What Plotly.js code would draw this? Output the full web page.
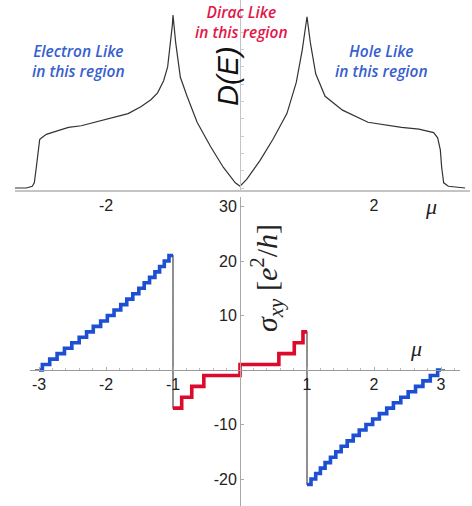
<!DOCTYPE html>
<html>
<head>
<meta charset="utf-8">
<script src="https://cdn.plot.ly/plotly-3.0.1.min.js"></script>
<style>
html, body { margin: 0; padding: 0; background: #fff; }
#plot { width: 472px; height: 506px; }
</style>
</head>
<body>
<div id="plot"></div>
<script>
// top panel: density of states D(E), arbitrary units (peak ~ 1)
var dosMu  = [-3.36, -3.19, -3.10, -3.07, -3.04, -3.01, -2.99, -2.96, -2.89, -2.81, -2.56, -2.37, -2.27, -1.93, -1.67, -1.48, -1.33, -1.23, -1.14, -1.08, -1.04, -1.01, -1.00,
              -0.96, -0.89, -0.79, -0.64, -0.44, -0.25, -0.07, 0.00, 0.10, 0.30, 0.49, 0.70, 0.84, 0.93, 1.00,
              1.05, 1.13, 1.27, 1.53, 1.91, 2.41, 2.67, 2.89, 2.95, 2.99, 3.01, 3.04, 3.11, 3.36];
var dosVal = [0.00, 0.00, 0.01, 0.03, 0.12, 0.22, 0.28, 0.29, 0.31, 0.32, 0.35, 0.36, 0.37, 0.40, 0.43, 0.47, 0.51, 0.55, 0.62, 0.70, 0.82, 0.94, 1.00,
              0.84, 0.64, 0.53, 0.38, 0.24, 0.12, 0.03, 0.01, 0.05, 0.16, 0.28, 0.43, 0.61, 0.80, 0.99,
              0.84, 0.66, 0.53, 0.45, 0.38, 0.35, 0.34, 0.32, 0.29, 0.22, 0.12, 0.03, 0.01, 0.00];

// bottom panel: Hall conductivity steps (value holds from each mu to the next)
var blueLeftMu  = [-3.00, -2.95, -2.84, -2.73, -2.62, -2.51, -2.40, -2.29, -2.19, -2.08, -1.98, -1.88, -1.78, -1.69, -1.60, -1.51, -1.43, -1.35, -1.27, -1.20, -1.13, -1.06, -1.00];
var blueLeftLvl = [0, 1, 2, 3, 4, 5, 6, 7, 8, 9, 10, 11, 12, 13, 14, 15, 16, 17, 18, 19, 20, 21, 21];
var redMu  = [-1.00, -0.87, -0.72, -0.54, 0.00, 0.58, 0.81, 0.94, 1.00];
var redLvl = [-7, -5, -3, -1, 1, 3, 5, 7, 7];
var blueRightMu  = [1.00, 1.06, 1.13, 1.20, 1.27, 1.35, 1.43, 1.51, 1.60, 1.69, 1.78, 1.88, 1.98, 2.08, 2.19, 2.29, 2.40, 2.51, 2.62, 2.73, 2.84, 2.95, 3.00];
var blueRightLvl = [-21, -20, -19, -18, -17, -16, -15, -14, -13, -12, -11, -10, -9, -8, -7, -6, -5, -4, -3, -2, -1, 0, 0];
var outerMu = [-3.06, 3.06];   // zero plateau outside the band

var topTicks = [-2, 2];
var bottomXTicks = [-3, -2, -1, 1, 2, 3];
var bottomYTicks = [-20, -10, 10, 20, 30];

// pixel geometry of the picture
var W = 472, H = 506;
var cx = 240, pxPerMu = 67;
function muAt(px) { return (px - cx) / pxPerMu; }
function px2x(px) { return px / W; }
function px2y(py) { return 1 - py / H; }
function hyphen(vals) { return vals.map(function (v) { return String(v); }); }

var fullMu = [outerMu[0]].concat(blueLeftMu, redMu, blueRightMu, [outerMu[1]]);
var fullLvl = [0].concat(blueLeftLvl, redLvl, blueRightLvl, [0]);

var traces = [
    {x: dosMu, y: dosVal, xaxis: 'x', yaxis: 'y', type: 'scatter', mode: 'lines',
     line: {color: '#333', width: 1.2}, hoverinfo: 'skip'},
    {x: fullMu, y: fullLvl, xaxis: 'x2', yaxis: 'y2', type: 'scatter', mode: 'lines',
     line: {color: '#555', width: 1.3, shape: 'hv'}, hoverinfo: 'skip'},
    {x: blueLeftMu, y: blueLeftLvl, xaxis: 'x2', yaxis: 'y2', type: 'scatter', mode: 'lines',
     line: {color: '#1d4fd3', width: 3.6, shape: 'hv'}},
    {x: redMu, y: redLvl, xaxis: 'x2', yaxis: 'y2', type: 'scatter', mode: 'lines',
     line: {color: '#dc0a2c', width: 3.6, shape: 'hv'}},
    {x: blueRightMu, y: blueRightLvl, xaxis: 'x2', yaxis: 'y2', type: 'scatter', mode: 'lines',
     line: {color: '#1d4fd3', width: 3.6, shape: 'hv'}}
];

var tickFont = {family: 'Liberation Sans, Arial, sans-serif', size: 16, color: '#222'};

var layout = {
    width: W, height: H,
    margin: {l: 0, r: 0, t: 0, b: 0, pad: 0},
    paper_bgcolor: '#fff', plot_bgcolor: 'rgba(0,0,0,0)',
    showlegend: false,
    xaxis: {
        domain: [px2x(15), px2x(470)], range: [muAt(15), muAt(470)],
        anchor: 'y', showgrid: false, zeroline: false,
        showline: true, linecolor: '#c4c4c4', linewidth: 1.5,
        tickmode: 'array', tickvals: topTicks, ticktext: hyphen(topTicks), ticks: '', tickfont: tickFont
    },
    yaxis: {
        domain: [px2y(190), 1], range: [(188 - 190) / 173, 188 / 173],
        anchor: 'free', position: px2x(cx), showgrid: false, zeroline: false,
        showline: true, linecolor: '#c4c4c4', linewidth: 1,
        showticklabels: false, ticks: 'inside', ticklen: 3, tickcolor: '#ccc', dtick: 0.1
    },
    xaxis2: {
        domain: [px2x(30), px2x(460)], range: [muAt(30), muAt(460)],
        anchor: 'free', position: px2y(370), showgrid: false, zeroline: false,
        showline: true, linecolor: '#9a9a9a', linewidth: 1.2,
        tickmode: 'array', tickvals: bottomXTicks, ticktext: hyphen(bottomXTicks),
        ticks: 'inside', ticklen: 3, tickcolor: '#aaa',
        minor: {dtick: 0.2, ticks: 'inside', ticklen: 2, tickcolor: '#bbb'},
        tickfont: tickFont
    },
    yaxis2: {
        domain: [0, px2y(197)], range: [(370 - 506) / 5.45, (370 - 197) / 5.45],
        anchor: 'free', position: px2x(cx), showgrid: false, zeroline: false,
        showline: true, linecolor: '#a8a8a8', linewidth: 1.2,
        tickmode: 'array', tickvals: bottomYTicks, ticktext: hyphen(bottomYTicks),
        ticks: 'inside', ticklen: 3, tickcolor: '#aaa',
        tickfont: tickFont
    },
    annotations: []
};

function note(text, px, py, font, angle) {
    layout.annotations.push({
        text: text, xref: 'paper', yref: 'paper', x: px2x(px), y: px2y(py),
        xanchor: 'center', yanchor: 'middle', showarrow: false,
        textangle: angle || 0, font: font
    });
}

var blueTxt = {family: 'Open Sans, DejaVu Sans, sans-serif', size: 15.5, color: '#3760cf', weight: 600, style: 'italic'};
var redTxt = {family: 'Open Sans, DejaVu Sans, sans-serif', size: 15.5, color: '#e2184a', weight: 600, style: 'italic'};
note('Electron Like<br>in this region', 78, 61, blueTxt);
note('Dirac Like<br>in this region', 242, 22, redTxt);
note('Hole Like<br>in this region', 381, 61, blueTxt);
note('<i>D(E)</i>', 228, 76, {family: 'Liberation Sans, Arial, sans-serif', size: 29, color: '#111'}, -90);
note('<i>σ<sub>xy</sub></i> [<i>e</i><sup>2</sup>/<i>h</i>]', 266, 278, {family: 'Liberation Serif, serif', size: 30, color: '#222'}, -90);
note('<i>μ</i>', 431, 206, {family: 'Liberation Serif, serif', size: 22, color: '#222'});
note('<i>μ</i>', 416, 348, {family: 'Liberation Serif, serif', size: 22, color: '#222'});

Plotly.newPlot('plot', traces, layout, {staticPlot: true, displayModeBar: false});
</script>
</body>
</html>
